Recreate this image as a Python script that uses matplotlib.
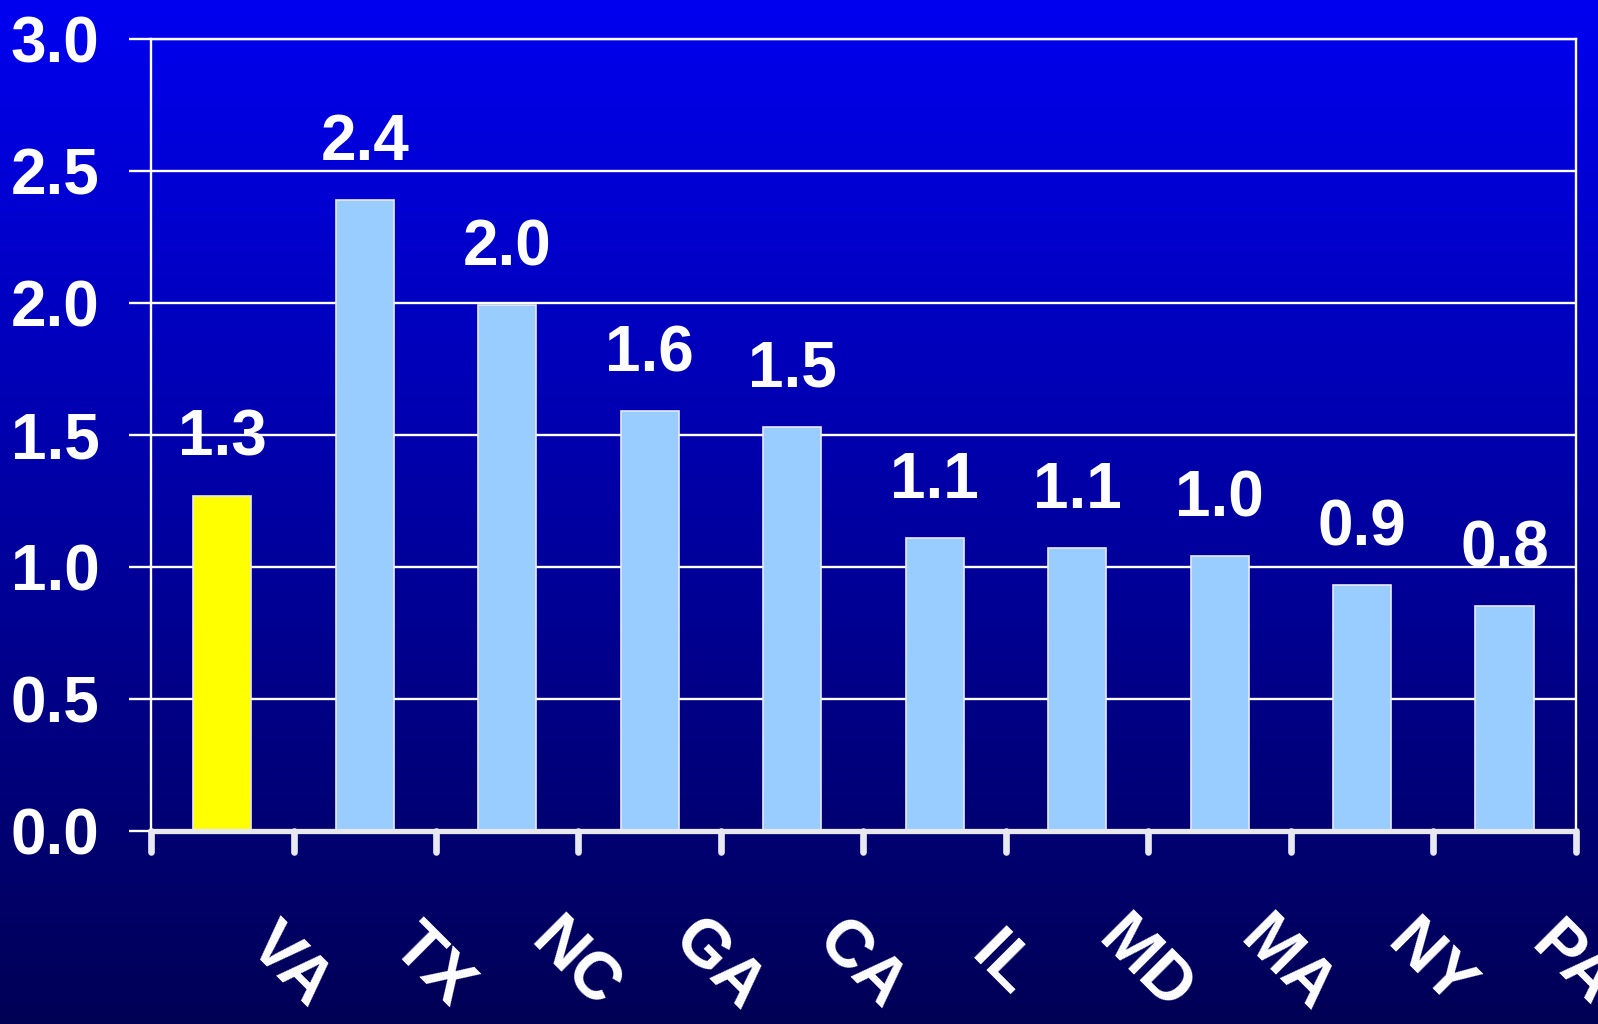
import numpy as np
import matplotlib
matplotlib.use("Agg")
import matplotlib.pyplot as plt
import matplotlib.transforms as mtransforms
from matplotlib.markers import MarkerStyle
import matplotlib.lines as mlines

states = ["VA", "TX", "NC", "GA", "CA", "IL", "MD", "MA", "NY", "PA"]
values = [1.27, 2.39, 1.99, 1.59, 1.53, 1.11, 1.07, 1.04, 0.93, 0.85]
labels = ["1.3", "2.4", "2.0", "1.6", "1.5", "1.1", "1.1", "1.0", "0.9", "0.8"]
colors = ["#FFFF00"] + ["#99CCFF"] * 9
yticks = [0.0, 0.5, 1.0, 1.5, 2.0, 2.5, 3.0]
ytick_labels = ["0.0", "0.5", "1.0", "1.5", "2.0", "2.5", "3.0"]

plt.rcParams['font.family'] = ['Liberation Sans', 'DejaVu Sans']

fig = plt.figure(figsize=(15.98, 10.24), dpi=100)

# gradient background
bg = fig.add_axes([0, 0, 1, 1], zorder=-10)
grad = np.linspace(0, 1, 512).reshape(-1, 1)
top = np.array([0, 0, 240]) / 255.0
bot = np.array([0, 0, 85]) / 255.0
img = top[None, None, :] * (1 - grad[:, :, None]) + bot[None, None, :] * grad[:, :, None]
bg.imshow(img, aspect='auto', extent=[0, 1, 0, 1])
bg.set_axis_off()

ax = fig.add_axes([0.0945, 0.1885, 0.9862 - 0.0945, 0.9622 - 0.1885])
ax.set_facecolor('none')

x = np.arange(len(states))
ax.bar(x, values, width=0.41, color=colors, edgecolor='#E8E8F0', linewidth=1.2, zorder=3)

ax.set_xlim(-0.5, len(states) - 0.5)
ax.set_ylim(0, 3.0)
ax.set_yticks(yticks)
ax.set_yticklabels(ytick_labels)
ax.yaxis.grid(True, color='white', linewidth=1.7, zorder=1)
ax.set_axisbelow(True)

ax.tick_params(axis='y', direction='out', length=16, width=1.7, color='white',
               pad=21, labelsize=46, labelcolor='white')
ax.set_xticks(np.arange(len(states) + 1) - 0.5)
ax.set_xticklabels([])
ax.tick_params(axis='x', direction='out', length=15, width=4.8, color='#E8E8F0')
for t in ax.xaxis.get_major_ticks():
    t.tick1line.set_marker(MarkerStyle(mlines.TICKDOWN, capstyle='round'))

for side in ['left', 'right', 'top']:
    ax.spines[side].set_color('white')
    ax.spines[side].set_linewidth(1.7)
ax.spines['bottom'].set_color('#E8E8F0')
ax.spines['bottom'].set_linewidth(3.8)
ax.spines['bottom'].set_zorder(4)

for tl in ax.get_yticklabels():
    tl.set_fontweight('bold')

# value labels
for xi, v, lab in zip(x, values, labels):
    ax.annotate(lab, (xi, v), xytext=(0, 41), textcoords='offset points',
                ha='center', va='center', color='white', fontsize=46,
                fontweight='bold', zorder=5)

# rotated category labels
trans = mtransforms.blended_transform_factory(ax.transData, ax.transAxes)
for xi, s in zip(x, states):
    ax.text(xi + 0.47, -0.17, s, transform=trans, rotation=-45,
            ha='center', va='center', rotation_mode='anchor',
            color='white', fontsize=48, fontweight='bold', clip_on=False)

fig.savefig('out.png', dpi=100)
